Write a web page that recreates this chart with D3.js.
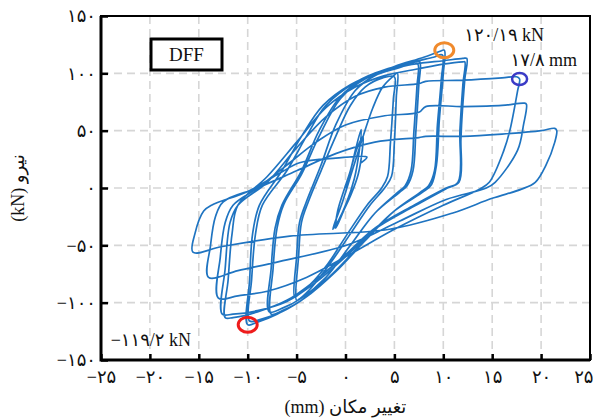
<!DOCTYPE html>
<html>
<head>
<meta charset="utf-8">
<script src="https://cdn.jsdelivr.net/npm/d3@7"></script>
<style>
  body { margin: 0; background: #fff; }
  svg text { font-family: "Liberation Serif", "DejaVu Sans", serif; fill: #111; }
</style>
</head>
<body>
<div id="chart"></div>
<script>
// Cyclic load-displacement record (DFF specimen), [mm, kN]
const cycle01 = [[0,0],[0.5,15],[1.2,35],[1.8,45],[1.7,32],[1.3,12],[0.6,-5],[-0.2,-20],[-1.0,-35]];
const cycle02 = [[-0.8,-20],[-0.2,-3],[0.5,15],[1.1,36],[1.6,51],[1.4,32],[0.9,8],[0.1,-13],[-0.7,-28],[-1.3,-36]];
const cycle03 = [[-0.3,-12],[0.8,18],[1.8,45],[2.8,70],[3.8,88],[4.8,97],[5.3,100],[5.2,80],[5.0,40],[4.7,10],[4.0,0],[2.5,-15],[0.5,-40],[-1.5,-65],[-3.5,-87],[-4.6,-96],[-5.0,-98]];
const cycle04 = [[-4.8,-60],[-4.5,-30],[-3.8,-12],[-2.5,15],[-1,45],[0.5,72],[2,88],[3.8,96],[5,97],[4.9,78],[4.6,40],[4.3,10],[3.7,0],[2.2,-15],[0.2,-40],[-1.8,-66],[-3.7,-85],[-4.8,-93],[-5.2,-95]];
const cycle05 = [[-5,-60],[-4.7,-30],[-4,-12],[-2.5,20],[-1,55],[1,85],[3,98],[5.5,105],[7.2,110],[7.6,110],[7.5,90],[7.2,50],[6.9,15],[6.3,2],[5.5,-4],[3,-22],[0.5,-50],[-2,-78],[-4.5,-98],[-6.5,-107],[-7.6,-110]];
const cycle06 = [[-7.4,-70],[-7,-35],[-6.3,-14],[-4.5,12],[-2.7,45],[-0.5,78],[2,95],[5,104],[7,108],[7.4,108],[7.3,88],[7,50],[6.7,15],[6.1,2],[5.3,-4],[3,-22],[0.5,-50],[-2,-78],[-4.5,-96],[-6.5,-105],[-7.8,-108]];
const cycle07 = [[-7.6,-70],[-7.2,-35],[-6.5,-15],[-4.5,15],[-2.7,50],[-0.5,80],[2,96],[5,106],[8,114],[9.6,119],[10.1,120.2],[10,100],[9.6,60],[9.3,20],[8.8,3],[8,-3],[5,-20],[2,-45],[-1,-72],[-4,-95],[-7,-110],[-9,-117],[-10,-119.2]];
const cycle08 = [[-9.8,-80],[-9.5,-40],[-8.8,-15],[-6.5,15],[-4.5,45],[-2.3,72],[0.5,90],[3.5,101],[6.5,109],[9,114],[9.9,116],[9.8,95],[9.4,55],[9.1,15],[8.5,2],[7.6,-4],[5,-20],[2,-46],[-1,-73],[-4,-95],[-6.5,-108],[-8.5,-114],[-9.8,-116]];
const cycle09 = [[-9.6,-80],[-9.2,-40],[-8.5,-15],[-6,15],[-4,45],[-2,72],[1,92],[4,103],[7,108],[10,111],[12,113],[12.4,113],[12.2,95],[11.9,60],[11.8,42],[11.6,5],[10.3,0],[7,-15],[3,-35],[0,-58],[-3,-80],[-6,-98],[-9,-108],[-11.5,-113],[-12.3,-113]];
const cycle10 = [[-12,-80],[-11.6,-40],[-11,-15],[-8,10],[-5,40],[-2,70],[1,88],[4,98],[7.5,104],[10,108],[12,110],[12.2,110],[12,90],[11.7,50],[11.5,5],[10.2,-1],[7,-16],[3,-36],[0,-60],[-3,-82],[-6,-99],[-9,-107],[-11.5,-110],[-12.6,-110]];
const cycle11 = [[-12.3,-70],[-11.8,-30],[-11,-15],[-8,5],[-5,35],[-2,62],[1,80],[4,88],[7.5,91],[8.2,93],[12,94],[16,96],[17.5,97],[17.8,95],[17.6,85],[16.8,50],[16.2,33],[14.7,5],[13.7,-1],[10,-15],[5,-36],[0,-60],[-4,-78],[-8,-90],[-11,-94],[-13,-96]];
const cycle12 = [[-12.8,-60],[-12.3,-30],[-11.5,-15],[-9,0],[-6,20],[-3,40],[0,55],[4,63],[7.5,66],[8.2,71],[12,71],[16,72],[18.3,74],[18.5,73],[18.2,55],[17.6,33],[15.3,5],[14.4,0],[10.3,-10],[5.5,-29],[0.4,-49],[-6.7,-64],[-11,-72],[-14,-78]];
const cycle13 = [[-13.8,-50],[-13.3,-25],[-12.5,-12],[-9,0],[-5,15],[-1,30],[3,40],[7.5,44],[8.2,45],[12,45],[16,47],[20,50],[21.4,52],[21.6,50],[21.4,40],[20.5,20],[19.4,5],[18,-1],[15,-9],[10.9,-22],[4.5,-36],[-5.7,-42],[-12.6,-51],[-15.6,-56]];
const cycleEnd = [[-15.4,-40],[-14.5,-20],[-13.7,-15],[-10,-3],[-6.7,13],[-4.7,22],[-1,26],[2.2,27],[1.6,22]];

const xTicks = [-25, -20, -15, -10, -5, 0, 5, 10, 15, 20, 25];
const yTicks = [-150, -100, -50, 0, 50, 100, 150];

// marked points
const peakPos = [10.1, 120.2];
const peakNeg = [-10, -119.2];
const ultDisp = [17.8, 95];
const peakPosLabel = "۱۲۰/۱۹ kN";
const peakNegLabel = "−۱۱۹/۲ kN";
const ultDispLabel = "۱۷/۸ mm";

const width = 593, height = 420;
const margin = {top: 16, right: 3, bottom: 60, left: 101};
const innerW = width - margin.left - margin.right;
const innerH = height - margin.top - margin.bottom;

const fa = v => String(v).replace(/-/g, "−").replace(/\d/g, d => "۰۱۲۳۴۵۶۷۸۹"[d]);

const svg = d3.select("#chart").append("svg")
    .attr("width", width)
    .attr("height", height);

const g = svg.append("g")
    .attr("transform", `translate(${margin.left},${margin.top})`);

const x = d3.scaleLinear().domain([-25, 25]).range([0, innerW]);
const y = d3.scaleLinear().domain([-150, 150]).range([innerH, 0]);

// dashed grid
g.append("g").selectAll("line")
    .data(xTicks.slice(1, -1))
    .join("line")
    .attr("x1", d => x(d)).attr("x2", d => x(d))
    .attr("y1", 0).attr("y2", innerH)
    .attr("stroke", "#d6d6d6").attr("stroke-width", 1.6)
    .attr("stroke-dasharray", "8,5");

g.append("g").selectAll("line")
    .data(yTicks.slice(1, -1))
    .join("line")
    .attr("y1", d => y(d)).attr("y2", d => y(d))
    .attr("x1", 0).attr("x2", innerW)
    .attr("stroke", "#d6d6d6").attr("stroke-width", 1.6)
    .attr("stroke-dasharray", "8,5");

// the hysteresis record as one continuous path
const record = [].concat(cycle01, cycle02, cycle03, cycle04, cycle05, cycle06, cycle07,
    cycle08, cycle09, cycle10, cycle11, cycle12, cycle13, cycleEnd);

const line = d3.line()
    .x(d => x(d[0]))
    .y(d => y(d[1]))
    .curve(d3.curveCatmullRom.alpha(0.5));

g.append("path")
    .datum(record)
    .attr("d", line)
    .attr("fill", "none")
    .attr("stroke", "#1f74c1")
    .attr("stroke-width", 1.7)
    .attr("stroke-linejoin", "round");

// axes with inward ticks
const xAxis = g.append("g")
    .attr("transform", `translate(0,${innerH})`)
    .call(d3.axisBottom(x).tickValues(xTicks).tickFormat(fa).tickSizeInner(-6).tickSizeOuter(0).tickPadding(10));

const yAxis = g.append("g")
    .call(d3.axisLeft(y).tickValues(yTicks).tickFormat(fa).tickSizeInner(-7).tickSizeOuter(0).tickPadding(5));

[xAxis, yAxis].forEach(a => {
    a.select(".domain").remove();
    a.selectAll("line").attr("stroke", "#000").attr("stroke-width", 2.5);
    a.selectAll("text").attr("font-size", 18).attr("fill", "#111");
});
xAxis.selectAll(".tick").filter(d => d === 25).select("text")
    .attr("text-anchor", "end").attr("x", 3);

// frame
g.append("rect")
    .attr("width", innerW).attr("height", innerH)
    .attr("fill", "none").attr("stroke", "#000").attr("stroke-width", 2);
g.append("path")
    .attr("d", `M0,0V${innerH}H${innerW}`)
    .attr("fill", "none").attr("stroke", "#000").attr("stroke-width", 3);

// specimen label
g.append("rect")
    .attr("x", 50).attr("y", 23).attr("width", 71).attr("height", 31)
    .attr("fill", "#fff").attr("stroke", "#000").attr("stroke-width", 3);
g.append("text")
    .attr("x", 85.5).attr("y", 45)
    .attr("text-anchor", "middle").attr("font-size", 19)
    .text("DFF");

// highlighted points
const marks = [
    {p: peakPos, color: "#f08a2c", rx: 9.5, ry: 7.5, w: 3},
    {p: ultDisp, color: "#3b3bc6", rx: 7.5, ry: 6, w: 2.5},
    {p: peakNeg, color: "#ee1c1c", rx: 9.5, ry: 7.5, w: 3}
];
g.selectAll(".mark")
    .data(marks)
    .join("ellipse")
    .attr("class", "mark")
    .attr("cx", d => x(d.p[0])).attr("cy", d => y(d.p[1]))
    .attr("rx", d => d.rx).attr("ry", d => d.ry)
    .attr("fill", "none").attr("stroke", d => d.color).attr("stroke-width", d => d.w);

g.append("text")
    .attr("x", x(peakPos[0]) + 20).attr("y", y(peakPos[1]) - 9)
    .attr("font-size", 18)
    .text(peakPosLabel);
g.append("text")
    .attr("x", x(ultDisp[0]) - 9).attr("y", y(ultDisp[1]) - 13)
    .attr("font-size", 18)
    .text(ultDispLabel);
g.append("text")
    .attr("x", x(peakNeg[0]) - 137).attr("y", y(peakNeg[1]) + 21)
    .attr("font-size", 18)
    .text(peakNegLabel);

// axis titles
svg.append("text")
    .attr("x", margin.left + innerW / 2).attr("y", 413)
    .attr("text-anchor", "middle").attr("font-size", 18)
    .text("(mm) تغییر مکان");

svg.append("text")
    .attr("transform", `translate(24,${margin.top + innerH / 2}) rotate(-90)`)
    .attr("text-anchor", "middle").attr("font-size", 18)
    .text("(kN) نیرو");
</script>
</body>
</html>
